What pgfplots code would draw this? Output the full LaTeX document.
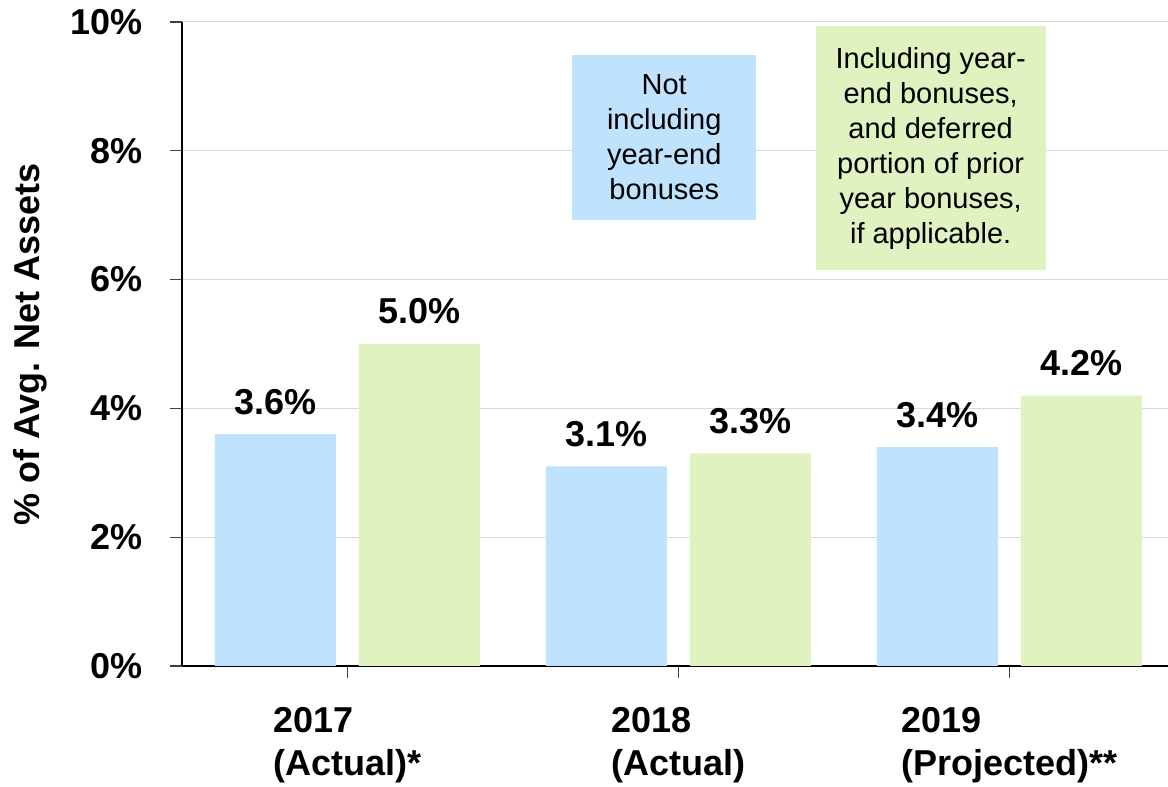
\documentclass[border=0pt]{standalone}
\usepackage{fontspec}
\setmainfont{Liberation Sans}
\usepackage{pgfplots}
\pgfplotsset{compat=1.18}
\definecolor{barBlue}{HTML}{BFE3FD}
\definecolor{barGreen}{HTML}{DFF2C0}
\definecolor{gridGray}{HTML}{D9D9D9}

\begin{document}
\begin{tikzpicture}
\begin{axis}[
    scale only axis,
    width=986pt, height=644pt,
    xmin=-0.5, xmax=2.479,
    ymin=0, ymax=10,
    axis x line=bottom, axis y line=left,
    axis line style={-, black, line width=2.2pt},
    tick align=outside,
    major tick length=12pt,
    tick style={black!75, line width=1.2pt},
    xtick={0,1,2},
    xticklabels={{2017\\(Actual)*},{2018\\(Actual)},{2019\\(Projected)**}},
    xticklabel style={align=left, anchor=north, inner sep=0pt, yshift=-29pt,
        font=\fontsize{36}{43}\selectfont\bfseries},
    ytick={0,2,4,6,8,10},
    yticklabels={0\%,2\%,4\%,6\%,8\%,10\%},
    yticklabel style={anchor=east, inner sep=0pt, xshift=-27pt,
        font=\fontsize{36}{43}\selectfont\bfseries},
    ymajorgrids=true,
    grid style={gridGray, line width=1pt},
    ylabel={\% of Avg. Net Assets},
    every axis y label/.style={at={(axis description cs:0,0.5)}, anchor=center,
        xshift=-152pt, rotate=90, font=\fontsize{36}{43}\selectfont\bfseries},
    /pgf/number format/assume math mode=true,
    nodes near coords={\pgfmathprintnumber[fixed,precision=1,fixed zerofill]{\pgfplotspointmeta}\%},
    every node near coord/.append style={anchor=base, inner sep=0pt, yshift=20pt,
        font=\fontsize{36}{43}\selectfont\bfseries, black},
]
\addplot[ybar, draw=none, fill=barBlue, bar width=121pt, bar shift=-72pt,
    every node near coord/.append style={xshift=-72pt}]
    coordinates {(0,3.6) (1,3.1) (2,3.4)};
\addplot[ybar, draw=none, fill=barGreen, bar width=121pt, bar shift=72pt,
    every node near coord/.append style={xshift=72pt}]
    coordinates {(0,5.0) (1,3.3) (2,4.2)};
\node[fill=barBlue, minimum width=184pt, minimum height=165pt, align=center,
    font=\fontsize{29}{35}\selectfont, inner sep=0pt]
    at (axis cs:0.957,8.21) {Not\\including\\year-end\\bonuses};
\node[fill=barGreen, minimum width=230pt, minimum height=244pt, align=center,
    font=\fontsize{29}{35}\selectfont, inner sep=0pt]
    at (axis cs:1.762,8.04) {Including year-\\end bonuses,\\and deferred\\portion of prior\\year bonuses,\\if applicable.};
\end{axis}
\pgfresetboundingbox
\path[use as bounding box] (-182pt,-121pt) rectangle (986pt,666pt);
\end{tikzpicture}
\end{document}
